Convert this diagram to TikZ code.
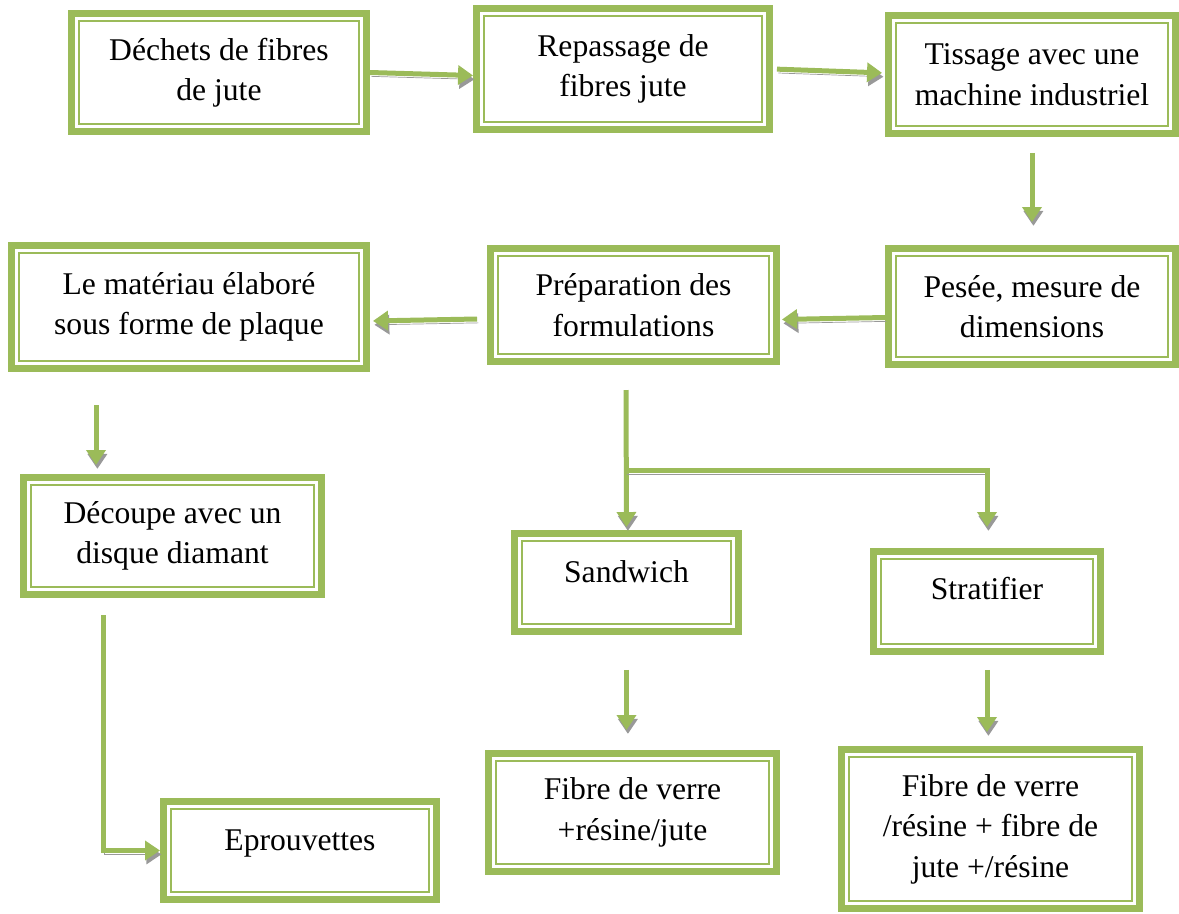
\documentclass[tikz,border=0pt]{standalone}
\usepackage{fontspec}
\setmainfont{Liberation Serif}
\usetikzlibrary{positioning,arrows.meta,calc}
\definecolor{boxgreen}{HTML}{9BBB59}
\definecolor{shadowgray}{HTML}{999999}

\begin{document}
\begin{tikzpicture}[x=0.02cm, y=-0.02cm,
        etape/.style={draw=boxgreen, line width=0.14cm, fill=white, align=center,
            font=\fontsize{18}{23}\selectfont, inner sep=2pt},
        flow/.style={draw=boxgreen, line width=0.1cm, -{Triangle[length=0.3cm,width=0.38cm]},
            preaction={draw=shadowgray, transform canvas={xshift=0.8pt,yshift=-2.2pt}}}]
    \useasboundingbox (0,0) rectangle (1179,913);

    % Boxes of the process
    \node[etape, minimum width=5.9cm, minimum height=2.36cm] (dechets) at (219,72.5) {Déchets de fibres\\de jute};
    \node[etape, minimum width=5.86cm, minimum height=2.42cm] (repassage) at (623,69) {Repassage de\\fibres jute};
    \node[etape, minimum width=5.74cm, minimum height=2.36cm] (tissage) at (1032,74.5) {Tissage avec une\\machine industriel};
    \node[etape, minimum width=5.74cm, minimum height=2.32cm] (pesee) at (1032,306.5) {Pesée, mesure de\\dimensions};
    \node[etape, minimum width=5.72cm, minimum height=2.26cm] (prep) at (633.5,305) {Préparation des\\formulations};
    \node[etape, minimum width=7.1cm, minimum height=2.46cm] (materiau) at (189,307) {Le matériau élaboré\\sous forme de plaque};
    \node[etape, minimum width=5.96cm, minimum height=2.34cm] (decoupe) at (172.5,536) {Découpe avec un\\disque diamant};
    \node[etape, minimum width=4.48cm, minimum height=1.96cm, text depth=0.44cm] (sandwich) at (626.5,582.5) {Sandwich};
    \node[etape, minimum width=4.54cm, minimum height=2.0cm, text depth=0.52cm] (stratifier) at (987,601.5) {Stratifier};
    \node[etape, minimum width=5.46cm, minimum height=1.96cm, text depth=0.42cm] (eprouvettes) at (300,850.5) {Eprouvettes};
    \node[etape, minimum width=5.76cm, minimum height=2.36cm] (verre1) at (632.5,812.5) {Fibre de verre\\+résine/jute};
    \node[etape, minimum width=5.96cm, minimum height=3.18cm] (verre2) at (990.5,829) {Fibre de verre\\/résine + fibre de\\jute +/résine};

    % Inner frame of each box
    \foreach \n in {dechets,repassage,tissage,pesee,prep,materiau,decoupe,sandwich,stratifier,eprouvettes,verre1,verre2}
        \draw[boxgreen, line width=0.03cm] ($(\n.north west)+(11,11)$) rectangle ($(\n.south east)+(-11,-11)$);

    % Free ends of some arrows
    \coordinate (mat1) at (96,405);
    \coordinate (mat2) at (96,465);
    \coordinate (dec1) at (103,615);
    \coordinate (prep1) at (626,390);
    \coordinate (split) at (626,470);
    \coordinate (pes1) at ($(pesee.west)+(0,11)$);
    \coordinate (prep2) at ($(prep.west)+(-10,14)$);

    % Arrows
    \draw[flow] (dechets.east) -- ($(dechets.east -| repassage.west)+(0,3)$);
    \draw[flow, shorten <=0.08cm, shorten >=0.06cm] (repassage.east) -- ($(repassage.east -| tissage.west)+(0,4)$);
    \draw[flow, shorten <=0.32cm, shorten >=0.46cm] (tissage.south) -- (pesee.north);
    \draw[flow, shorten >=0.04cm] (pes1) -- ($(pes1 -| prep.east)+(0,2)$);
    \draw[flow, shorten >=0.06cm] (prep2) -- ($(prep2 -| materiau.east)+(0,2)$);
    \draw[flow] (mat1) -- (mat2);
    \draw[flow] (dec1) |- (eprouvettes.west);
    \draw[flow, shorten >=0.06cm] (prep1) -- (sandwich.north);
    \draw[flow, shorten >=0.42cm] (split) -| (stratifier.north);
    \draw[flow, shorten <=0.7cm, shorten >=0.4cm] (sandwich.south) -- (sandwich.south |- verre1.north);
    \draw[flow, shorten <=0.3cm, shorten >=0.28cm] (stratifier.south) -- (stratifier.south |- verre2.north);
\end{tikzpicture}
\end{document}
